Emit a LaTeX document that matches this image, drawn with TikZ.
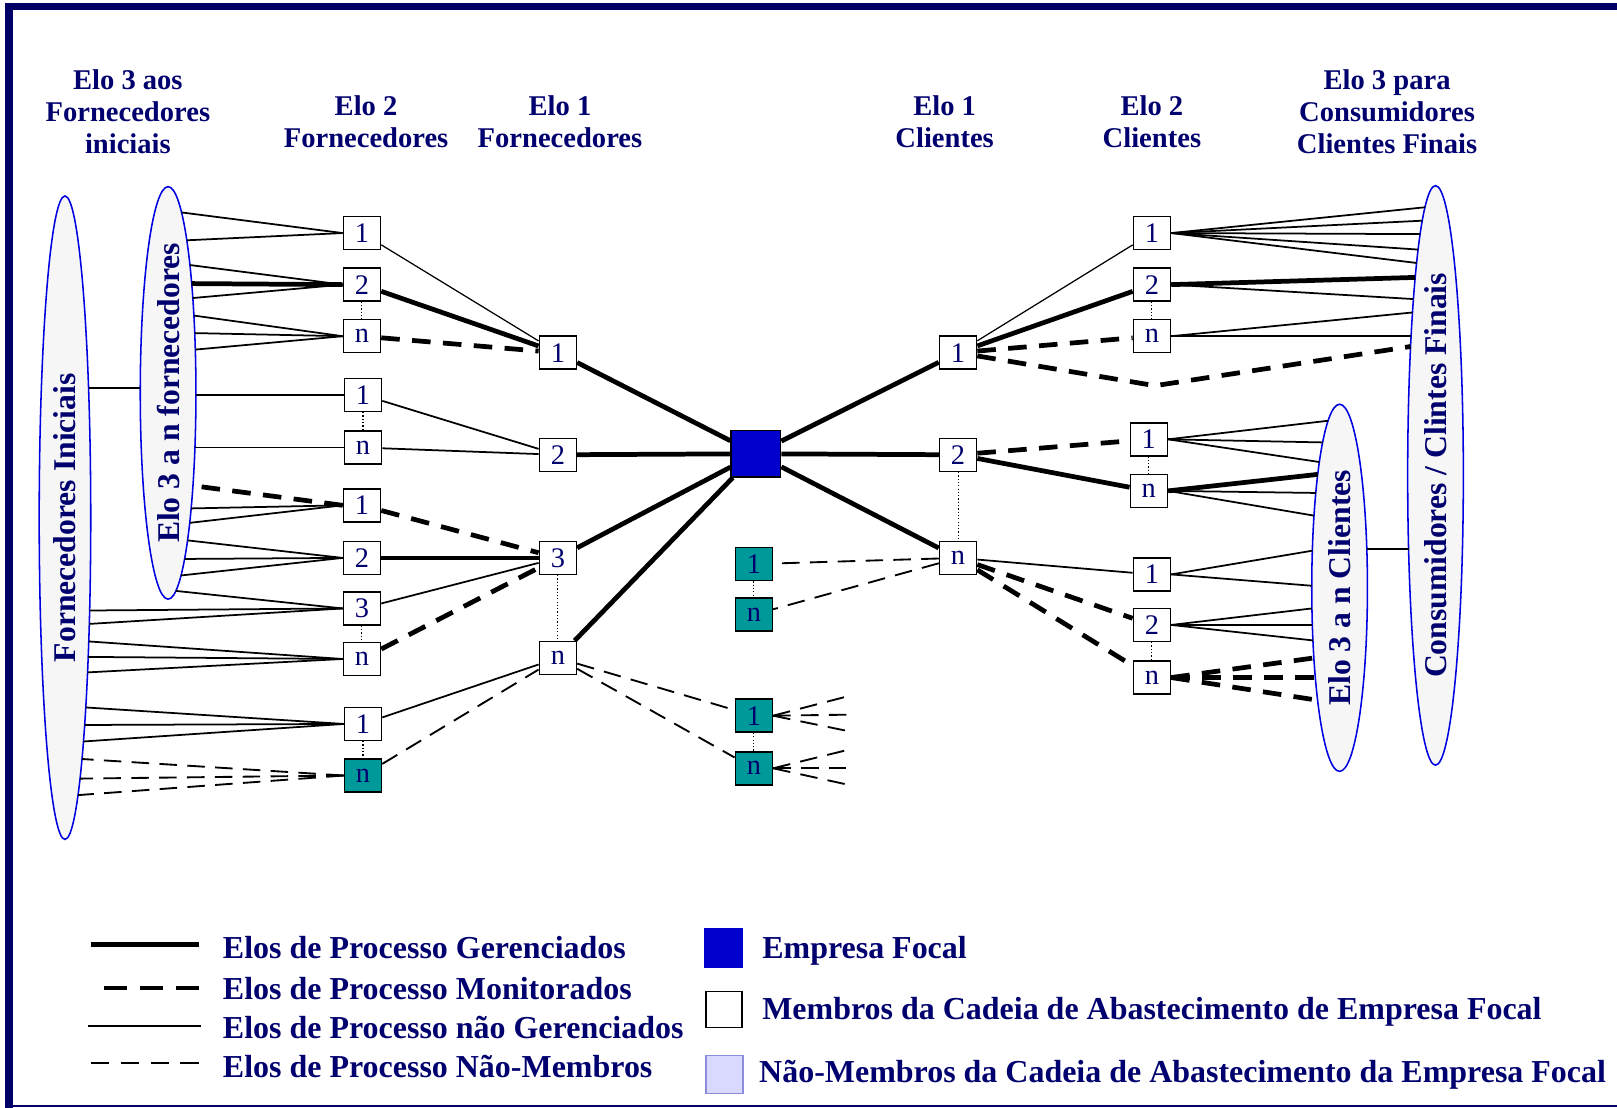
\documentclass[tikz,border=0pt]{standalone}
\usepackage{fontspec}
\setmainfont{Liberation Serif}
\usetikzlibrary{shapes.geometric}

\definecolor{azultexto}{RGB}{0,0,110}
\definecolor{moldura}{RGB}{0,0,102}
\definecolor{azulfocal}{RGB}{0,0,204}
\definecolor{azulcontorno}{RGB}{0,0,225}
\definecolor{cinzaclaro}{RGB}{246,246,246}
\definecolor{verdeazul}{RGB}{0,153,153}
\definecolor{lavanda}{RGB}{217,217,255}
\definecolor{lavandaborda}{RGB}{140,140,220}

% leque de linhas de uma caixa ate a borda de uma elipse
\newcommand{\leque}[6][naogerenciado]{%
  \foreach \dy in {#6}{%
    \pgfmathsetmacro{\ddx}{#4*sqrt(1-(\dy/#5)^2)}%
    \draw[#1] (#2) -- ([shift={(\ddx,{-1*(\dy)})}]#3.center);}}

\begin{document}
\begin{tikzpicture}[x=1pt, y=1pt,
    membro/.style={rectangle, draw, line width=1.4pt, fill=white, minimum width=36pt, minimum height=32pt, inner sep=0pt, text=azultexto, font=\fontsize{27.5}{29}\selectfont},
    externo/.style={membro, fill=verdeazul},
    focal/.style={rectangle, draw, line width=1.4pt, fill=azulfocal, minimum width=48pt, minimum height=45pt},
    grupo/.style={ellipse, draw=azulcontorno, line width=1.5pt, fill=cinzaclaro, inner sep=0pt},
    rotulo/.style={text=azultexto, font=\fontsize{30.7}{34}\selectfont\bfseries},
    titulo/.style={align=center, text=azultexto, font=\fontsize{27.7}{31}\selectfont\bfseries},
    legenda/.style={anchor=west, inner sep=0pt, text=azultexto, font=\fontsize{31}{34}\selectfont\bfseries},
    gerenciado/.style={line width=4.6pt},
    monitorado/.style={line width=4.6pt, dash pattern=on 18pt off 12pt},
    naogerenciado/.style={line width=1.7pt},
    fino/.style={line width=1.2pt},
    naomembro/.style={line width=1.8pt, dash pattern=on 17pt off 10pt},
    pontilhado/.style={line width=1pt, dash pattern=on 1.2pt off 2pt}
]
  \useasboundingbox (0,0) rectangle (1568,-1074);
  % moldura
  \fill[moldura] (5,-2.6) rectangle (1568,-9.7);
  \fill[moldura] (5,-2.6) rectangle (12.6,-1074);
  \draw[moldura, line width=2pt] (5,-1072.5) -- (1568,-1072.5);

  % titulos
  \node[titulo] (t3f) at (124,-108)   {Elo 3 aos\\Fornecedores\\iniciais};
  \node[titulo] (t2f) at (355,-118.5) {Elo 2\\Fornecedores};
  \node[titulo] (t1f) at (543,-118.5) {Elo 1\\Fornecedores};
  \node[titulo] (t1c) at (916,-118.5) {Elo 1\\Clientes};
  \node[titulo] (t2c) at (1117,-118.5) {Elo 2\\Clientes};
  \node[titulo] (t3c) at (1345,-108)  {Elo 3 para\\Consumidores\\Clientes Finais};

  % elipses
  \node[grupo, minimum width=50pt, minimum height=624pt] (fi) at (63,-502) {};
  \node[grupo, minimum width=54pt, minimum height=400pt] (ef) at (163,-381) {};
  \node[grupo, minimum width=54pt, minimum height=356pt] (ec) at (1299,-570) {};
  \node[grupo, minimum width=54pt, minimum height=562pt] (cf) at (1392,-461) {};
  \node[rotulo, rotate=90] (tfi) at (fi.center) {Fornecedores Iniciais};
  \node[rotulo, rotate=90] (tef) at (ef.center) {Elo 3 a n fornecedores};
  \node[rotulo, rotate=90] (tec) at (ec.center) {Elo 3 a n Clientes};
  \node[rotulo, rotate=90] (tcf) at (cf.center) {Consumidores / Clintes Finais};
  \draw[naogerenciado] ([shift={(22.9,126)}]fi.center) -- ([shift={(-27,5)}]ef.center);
  \draw[naogerenciado] ([shift={(26.4,38)}]ec.center) -- ([shift={(-26.1,-71)}]cf.center);

  % elo 2 fornecedores
  \node[membro] (fa1) at (351,-226) {1};
  \node[membro] (fa2) at (351,-276) {2};
  \node[membro] (fan) at (351,-326) {n};
  \node[membro] (fb1) at (352,-383) {1};
  \node[membro] (fbn) at (352,-434) {n};
  \node[membro] (fc1) at (351,-490) {1};
  \node[membro] (fc2) at (351,-541) {2};
  \node[membro] (fc3) at (351,-590) {3};
  \node[membro] (fcn) at (351,-639) {n};
  \node[membro] (fd1) at (352,-702) {1};
  \node[externo] (fdn) at (352,-752) {n};
  % elo 1 fornecedores
  \node[membro] (s1) at (541,-342) {1};
  \node[membro] (s2) at (541,-441) {2};
  \node[membro] (s3) at (541,-541) {3};
  \node[membro] (sn) at (541,-638) {n};
  % empresa focal
  \node[focal] (foco) at (733,-440) {};
  % elo 1 clientes
  \node[membro] (c1) at (929,-342) {1};
  \node[membro] (c2) at (929,-441) {2};
  \node[membro] (cn) at (929,-541) {n};
  % elo 2 clientes
  \node[membro] (ca1) at (1117,-226) {1};
  \node[membro] (ca2) at (1117,-276) {2};
  \node[membro] (can) at (1117,-326) {n};
  \node[membro] (cb1) at (1114,-426) {1};
  \node[membro] (cbn) at (1114,-476) {n};
  \node[membro] (cc1) at (1117,-557) {1};
  \node[membro] (cc2) at (1117,-606) {2};
  \node[membro] (ccn) at (1117,-657) {n};
  % nao-membros
  \node[externo] (nm1) at (731,-547) {1};
  \node[externo] (nmn) at (731,-596) {n};
  \node[externo] (nr1) at (731,-694) {1};
  \node[externo] (nrn) at (731,-745) {n};
  \coordinate (dobra) at (1120,-374);

  % pontilhados
  \foreach \a/\b in {fa2/fan, fb1/fbn, fc3/fcn, fd1/fdn, s3/sn, c2/cn, ca2/can, cb1/cbn, cc2/ccn, nm1/nmn, nr1/nrn}
    \draw[pontilhado] (\a) -- (\b);

  % empresa focal
  \draw[gerenciado] (s1) -- (foco);
  \draw[gerenciado] (s2) -- (foco);
  \draw[gerenciado] (s3) -- (foco);
  \draw[gerenciado] (sn) -- (foco);
  \draw[gerenciado] (foco) -- (c1);
  \draw[gerenciado] (foco) -- (c2);
  \draw[gerenciado] (foco) -- (cn);

  % lado dos fornecedores
  \draw[fino] (fa1) -- (s1);
  \draw[gerenciado] (fa2) -- (s1);
  \draw[monitorado] (fan) -- (s1);
  \draw[naogerenciado] (fb1) -- (s2);
  \draw[naogerenciado] (fbn) -- (s2);
  \draw[monitorado] (fc1) -- (s3);
  \draw[gerenciado] (fc2) -- (s3);
  \draw[naogerenciado] (fc3) -- (s3);
  \draw[monitorado] (fcn) -- (s3);
  \draw[naogerenciado] (fd1) -- (sn);
  \draw[naomembro] (fdn) -- (sn);
  \draw[naomembro] (sn) -- (nr1);
  \draw[naomembro] (sn) -- (nrn);
  \foreach \dy in {19,1,-15} \draw[naomembro] (nr1.east) -- +(73,\dy);
  \foreach \dy in {18,0,-16} \draw[naomembro] (nrn.east) -- +(73,\dy);

  \leque{fa1.west}{ef}{27}{200}{-175,-148}
  \leque{fa2.west}{ef}{27}{200}{-124,-92}
  \leque[gerenciado]{fa2.west}{ef}{27}{200}{-106}
  \leque{fan.west}{ef}{27}{200}{-75,-58,-42}
  \leque{fb1.west}{ef}{27}{200}{2}
  \leque{fbn.west}{ef}{27}{200}{53}
  \leque[monitorado]{fc1.west}{ef}{27}{200}{90}
  \leque{fc1.west}{ef}{27}{200}{112,126}
  \leque{fc2.west}{ef}{27}{200}{143,161,177}
  \leque{fc3.west}{ef}{27}{200}{192}
  \leque{fc3.west}{fi}{25}{312}{90,103}
  \leque{fcn.west}{fi}{25}{312}{120,135,150}
  \leque{fd1.west}{fi}{25}{312}{184,201,217}
  \leque[naomembro]{fdn.west}{fi}{25}{312}{234,253,269}

  % lado dos clientes
  \draw[fino] (c1) -- (ca1);
  \draw[gerenciado] (c1) -- (ca2);
  \draw[monitorado] (c1) -- (can);
  \draw[monitorado] (c1) -- (dobra) -- ([shift={(-24.2,125)}]cf.center);
  \draw[monitorado] (c2) -- (cb1);
  \draw[gerenciado] (c2) -- (cbn);
  \draw[naogerenciado] (cn) -- (cc1);
  \draw[monitorado] (cn) -- (cc2);
  \draw[monitorado] (cn) -- (ccn);
  \draw[naomembro] (cn) -- (nm1);
  \draw[naomembro] (cn) -- (nmn);

  \leque{ca1.east}{cf}{-27}{281}{-260,-247,-234,-219,-206}
  \leque[gerenciado]{ca2.east}{cf}{-27}{281}{-192}
  \leque{ca2.east}{cf}{-27}{281}{-171}
  \leque{can.east}{cf}{-27}{281}{-158,-135}
  \leque{cb1.east}{ec}{-27}{178}{-162,-141,-122}
  \leque[gerenciado]{cbn.east}{ec}{-27}{178}{-110}
  \leque{cbn.east}{ec}{-27}{178}{-92,-70}
  \leque{cc1.east}{ec}{-27}{178}{-36,-2}
  \leque{cc2.east}{ec}{-27}{178}{20,36,51}
  \leque[monitorado]{ccn.east}{ec}{-27}{178}{68,87,109}

  % legenda
  \draw[gerenciado, line width=4.8pt] (88,-916) -- (193,-916);
  \draw[monitorado, dash pattern=on 22pt off 13pt] (101,-958) -- (193,-958);
  \draw[line width=2.6pt] (85,-995) -- (195,-995);
  \draw[naomembro, line width=2pt, dash pattern=on 18pt off 11pt] (88,-1031) -- (193,-1031);
  \node[legenda] (lg1) at (216,-919) {Elos de Processo Gerenciados};
  \node[legenda] (lg2) at (216,-959) {Elos de Processo Monitorados};
  \node[legenda] (lg3) at (216,-996) {Elos de Processo não Gerenciados};
  \node[legenda] (lg4) at (216,-1034) {Elos de Processo Não-Membros};
  \node[focal, draw=azulfocal, minimum width=36pt, minimum height=37pt] (lfoco) at (701.5,-919) {};
  \node[membro, minimum width=35pt, minimum height=35pt] (lmembro) at (702,-979) {};
  \node[membro, fill=lavanda, draw=lavandaborda, minimum width=36pt, minimum height=37pt] (lnao) at (702.5,-1042) {};
  \node[legenda] (lg5) at (739,-922) {Empresa Focal};
  \node[legenda] (lg6) at (739,-981) {Membros da Cadeia de Abastecimento de Empresa Focal};
  \node[legenda] (lg7) at (736,-1042) {Não-Membros da Cadeia de Abastecimento da Empresa Focal};
\end{tikzpicture}
\end{document}
